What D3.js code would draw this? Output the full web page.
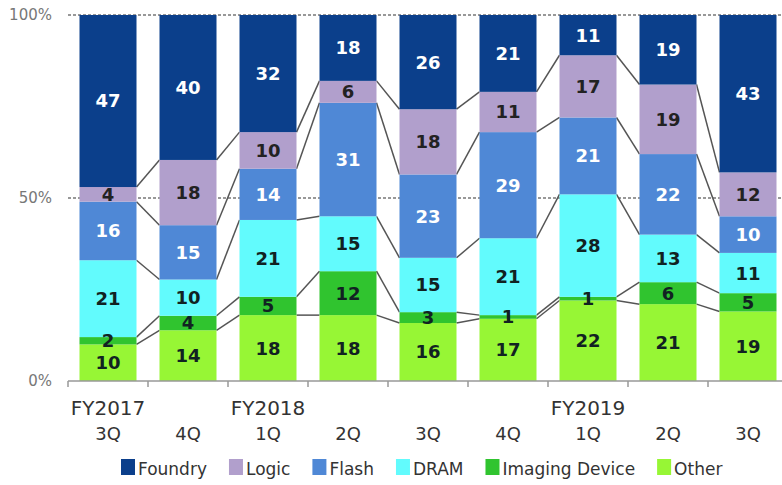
<!DOCTYPE html>
<html>
<head>
<meta charset="utf-8">
<script src="https://cdn.jsdelivr.net/npm/d3@7"></script>
<style>
  body { margin: 0; background: #fff; }
  text { font-family: "DejaVu Sans", sans-serif; }
</style>
</head>
<body>
<script>
var width = 782, height = 485;

// quarters, bottom -> top stacking order
var years = ["FY2017", "", "FY2018", "", "", "", "FY2019", "", ""];
var quarters = ["3Q", "4Q", "1Q", "2Q", "3Q", "4Q", "1Q", "2Q", "3Q"];
var keys = ["Other", "Imaging Device", "DRAM", "Flash", "Logic", "Foundry"];
var other   = [10, 14, 18, 18, 16, 17, 22, 21, 19];
var imaging = [2, 4, 5, 12, 3, 1, 1, 6, 5];
var dram    = [21, 10, 21, 15, 15, 21, 28, 13, 11];
var flash   = [16, 15, 14, 31, 23, 29, 21, 22, 10];
var logic   = [4, 18, 10, 6, 18, 11, 17, 19, 12];
var foundry = [47, 40, 32, 18, 26, 21, 11, 19, 43];
var yTicks = [0, 0.5, 1];

var colors = {
  "Foundry": "#0b3f8b",
  "Logic": "#b19fcc",
  "Flash": "#4f88d6",
  "DRAM": "#62fbfd",
  "Imaging Device": "#30c42f",
  "Other": "#97f635"
};
var textColors = {
  "Foundry": "#fff", "Logic": "#222", "Flash": "#fff",
  "DRAM": "#122", "Imaging Device": "#122", "Other": "#122"
};
var legendOrder = ["Foundry", "Logic", "Flash", "DRAM", "Imaging Device", "Other"];

var series = [other, imaging, dram, flash, logic, foundry];
var data = quarters.map(function(q, i) {
  var row = {idx: i};
  keys.forEach(function(k, j) { row[k] = series[j][i]; });
  return row;
});

var stack = d3.stack().keys(keys).offset(d3.stackOffsetExpand);
var layers = stack(data);

var x = d3.scaleBand()
    .domain(d3.range(quarters.length))
    .range([68, 788])
    .paddingInner(0.2875)
    .paddingOuter(0.14375);
var y = d3.scaleLinear().domain([0, 1]).range([381, 15]);

var svg = d3.select("body").append("svg")
    .attr("width", width)
    .attr("height", height);

// gridlines (dashed, behind bars)
svg.selectAll("line.grid")
    .data(yTicks.filter(function(d) { return d > 0; }))
  .enter().append("line")
    .attr("class", "grid")
    .attr("x1", 68).attr("x2", width)
    .attr("y1", function(d) { return y(d); })
    .attr("y2", function(d) { return y(d); })
    .style("stroke", "#333")
    .style("stroke-width", 1.2)
    .style("stroke-dasharray", "3,2");

// y labels
svg.selectAll("text.ylab")
    .data(yTicks)
  .enter().append("text")
    .attr("class", "ylab")
    .attr("x", 52)
    .attr("y", function(d) { return y(d); })
    .attr("dy", "0.36em")
    .attr("text-anchor", "end")
    .style("font-size", "15px")
    .style("fill", "#777")
    .text(function(d) { return Math.round(d * 100) + "%"; });

// connector lines between bars
var bw = x.bandwidth();
layers.forEach(function(layer) {
  if (layer.key === "Foundry") return;
  for (var i = 0; i < layer.length - 1; i++) {
    svg.append("line")
        .attr("x1", x(i) + bw)
        .attr("x2", x(i + 1))
        .attr("y1", y(layer[i][1]))
        .attr("y2", y(layer[i + 1][1]))
        .style("stroke", "#555")
        .style("stroke-width", 1.5);
  }
});

// bars
var groups = svg.selectAll("g.layer")
    .data(layers)
  .enter().append("g")
    .attr("class", "layer")
    .style("fill", function(d) { return colors[d.key]; });

groups.selectAll("rect")
    .data(function(d) { return d; })
  .enter().append("rect")
    .attr("x", function(d, i) { return x(i); })
    .attr("y", function(d) { return y(d[1]); })
    .attr("width", bw)
    .attr("height", function(d) { return y(d[0]) - y(d[1]); });

// value labels
layers.forEach(function(layer) {
  svg.selectAll("text.v-" + layer.key.replace(" ", ""))
      .data(layer)
    .enter().append("text")
      .attr("x", function(d, i) { return x(i) + bw / 2; })
      .attr("y", function(d) { return y((d[0] + d[1]) / 2); })
      .attr("dy", "0.36em")
      .attr("text-anchor", "middle")
      .style("font-size", "18px")
      .style("font-weight", "bold")
      .style("fill", textColors[layer.key])
      .text(function(d) { return d.data[layer.key]; });
});

// x axis
var axisG = svg.append("g");
axisG.append("line")
    .attr("x1", 68).attr("x2", width)
    .attr("y1", 381).attr("y2", 381)
    .style("stroke", "#999").style("stroke-width", 1.5);
axisG.selectAll("line.tick")
    .data(d3.range(quarters.length + 1))
  .enter().append("line")
    .attr("class", "tick")
    .attr("x1", function(d) { return 68 + d * x.step(); })
    .attr("x2", function(d) { return 68 + d * x.step(); })
    .attr("y1", 381).attr("y2", 387)
    .style("stroke", "#999").style("stroke-width", 1.5);

svg.selectAll("text.year")
    .data(years)
  .enter().append("text")
    .attr("x", function(d, i) { return x(i) + bw / 2; })
    .attr("y", 415)
    .attr("text-anchor", "middle")
    .style("font-size", "20px")
    .style("fill", "#333")
    .text(function(d) { return d; });

svg.selectAll("text.q")
    .data(quarters)
  .enter().append("text")
    .attr("x", function(d, i) { return x(i) + bw / 2; })
    .attr("y", 440)
    .attr("text-anchor", "middle")
    .style("font-size", "18px")
    .style("fill", "#333")
    .text(function(d) { return d; });

// legend
var lx = 121;
legendOrder.forEach(function(k) {
  var g = svg.append("g");
  g.append("rect")
      .attr("x", lx).attr("y", 459)
      .attr("width", 14).attr("height", 16)
      .style("fill", colors[k]);
  var t = g.append("text")
      .attr("x", lx + 17).attr("y", 475)
      .style("font-size", "17px")
      .style("fill", "#333")
      .text(k);
  lx += 17 + t.node().getComputedTextLength() + 22;
});
</script>
</body>
</html>
